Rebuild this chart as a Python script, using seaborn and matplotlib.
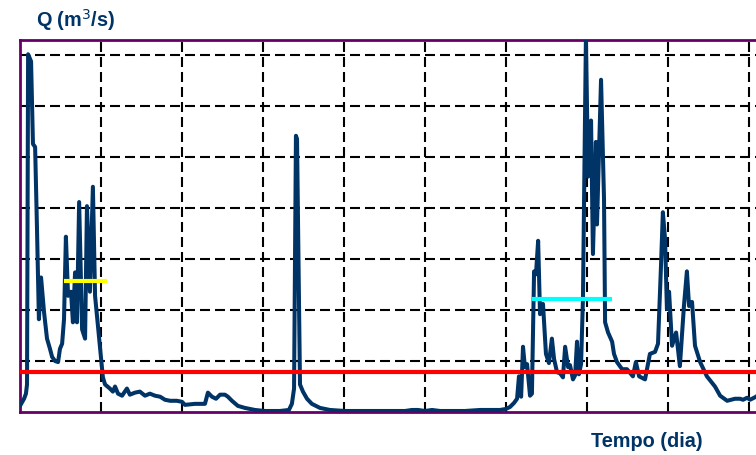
import numpy as np
import pandas as pd
import matplotlib
matplotlib.use("Agg")
import matplotlib.pyplot as plt
import seaborn as sns

# ----------------------------------------------------------
# DATA (read off the reference hydrograph)
# ----------------------------------------------------------

days = [
    0, 1.5, 2.2, 2.6, 3.0, 4.1, 4.8, 5.6, 6.3, 7.0, 7.8, 8.9, 10.0, 11.1, 11.9,
    13.0, 14.1, 14.8, 15.6, 16.3, 17.0, 17.8, 18.9, 19.6, 20.4, 21.1, 21.9, 23.0,
    24.1, 24.8, 25.9, 27.0, 27.8, 29.6, 30.7, 31.5, 33.3, 34.4, 35.2, 36.3, 37.8,
    39.6, 40.7, 42.6, 44.4, 46.3, 48.1, 50.0, 51.9, 53.7, 55.6, 58.1, 60.0, 61.1,
    64.8, 68.5, 69.6, 71.1, 72.6, 74.1, 75.9, 77.0, 78.5, 80.7, 83.3, 87.0, 90.7,
    96.3, 99.6, 100.7, 101.5, 102.2, 102.6, 103.7, 104.8, 106.3, 108.1, 111.1,
    114.8, 120.4, 142.6, 145.2, 147.4, 150.0, 152.6, 155.6, 164.8, 170.4, 177.8,
    180.0, 181.5, 183.0, 184.1, 184.8, 185.6, 186.3, 187.0, 187.8, 188.9, 189.6,
    190.4, 191.1, 191.9, 192.6, 193.7, 194.8, 195.9, 197.0, 197.8, 198.9, 200.0,
    201.1, 201.9, 203.0, 203.7, 204.8, 205.6, 206.3, 207.0, 207.8, 208.5, 209.6,
    210.4, 211.5, 212.2, 213.3, 213.7, 215.2, 216.3, 216.7, 217.8, 219.3, 220.0,
    221.1, 223.0, 224.8, 227.0, 228.1, 229.3, 231.5, 233.3, 235.2, 236.3, 237.4,
    238.1, 238.9, 239.6, 240.4, 241.5, 243.0, 244.4, 245.9, 247.0, 247.8, 248.9,
    250.0, 251.9, 254.4, 257.4, 259.3, 261.9, 264.8, 266.7, 267.8, 269.3, 270.4,
    272.6, 274.0,
]

flow = [
    6, 13, 18, 27, 351, 344, 263, 260, 179, 91, 132, 98, 72, 62, 54,
    50, 49, 62, 67, 91, 172, 114, 118, 88, 137, 88, 206, 81,
    72, 202, 118, 221, 114, 65, 34, 27, 23, 20, 25, 18, 16,
    23, 17, 19, 20, 16, 18, 16, 15, 12, 11, 11, 10, 7,
    8, 8, 19, 15, 13, 17, 17, 15, 11, 6, 4, 2, 1,
    1, 2, 8, 23, 271, 268, 27, 20, 13, 8, 4,
    2, 1, 1, 2, 2, 1, 2, 1, 1, 2, 2,
    3, 5, 9, 13, 35, 15, 64, 44, 47, 16, 18,
    138, 135, 168, 96, 106, 57, 48, 72, 52, 39, 38,
    34, 64, 44, 46, 32, 36, 69, 37, 47, 111, 368,
    231, 286, 155, 265, 184, 326, 209, 88, 78, 69, 57,
    49, 42, 42, 35, 49, 35, 32, 57, 59, 67, 143,
    196, 170, 101, 118, 65, 78, 45, 104, 138, 104, 108,
    65, 49, 35, 25, 16, 11, 13, 13, 12, 14, 12,
    15, 18,
]

q_ref = 39                 # red reference discharge
yellow_q = 129             # mean of first event
yellow_days = [16.3, 32.2]
cyan_q = 111               # mean of second event
cyan_days = [189.6, 219.3]

df = pd.DataFrame({"dia": days, "Q": flow})

# ----------------------------------------------------------
# PLOT
# ----------------------------------------------------------

sns.set_style("white")
plt.rcParams["font.family"] = ["Liberation Sans", "DejaVu Sans"]

fig = plt.figure(figsize=(7.56, 4.56), dpi=100)
ax = fig.add_axes([20 / 756, 1 - 413 / 456, 742.5 / 756, 372 / 456])

ax.set_xlim(0, 275)
ax.set_ylim(0, 365)
ax.set_xticks(np.arange(30, 271, 30))
ax.set_yticks(np.arange(50, 351, 50))
ax.tick_params(length=0, labelbottom=False, labelleft=False)

ax.grid(True, color="black", linewidth=1.5, linestyle=(0, (4.8, 2.4)))
ax.set_axisbelow(True)

for side in ax.spines.values():
    side.set_color("#660066")
    side.set_linewidth(2)

sns.lineplot(data=df, x="dia", y="Q", color="#003366", linewidth=2.9,
             ax=ax, zorder=3, legend=False)

ax.axhline(q_ref, color="#ff0000", linewidth=3, zorder=4)
ax.plot(yellow_days, [yellow_q, yellow_q], color="#ffff00", linewidth=3, zorder=4,
        solid_capstyle="butt")
ax.plot(cyan_days, [cyan_q, cyan_q], color="#00ffff", linewidth=3, zorder=4,
        solid_capstyle="butt")

ax.set_xlabel("")
ax.set_ylabel("")

fig.text(36 / 756, 1 - 20 / 456, "Q (m$^3$/s)", fontsize=14.3, fontweight="bold",
         color="#003366", ha="left", va="center")
fig.text(647 / 756, 1 - 442 / 456, "Tempo (dia)", fontsize=14.3, fontweight="bold",
         color="#003366", ha="center", va="center")

fig.savefig("out.png", dpi=100)
plt.close(fig)
